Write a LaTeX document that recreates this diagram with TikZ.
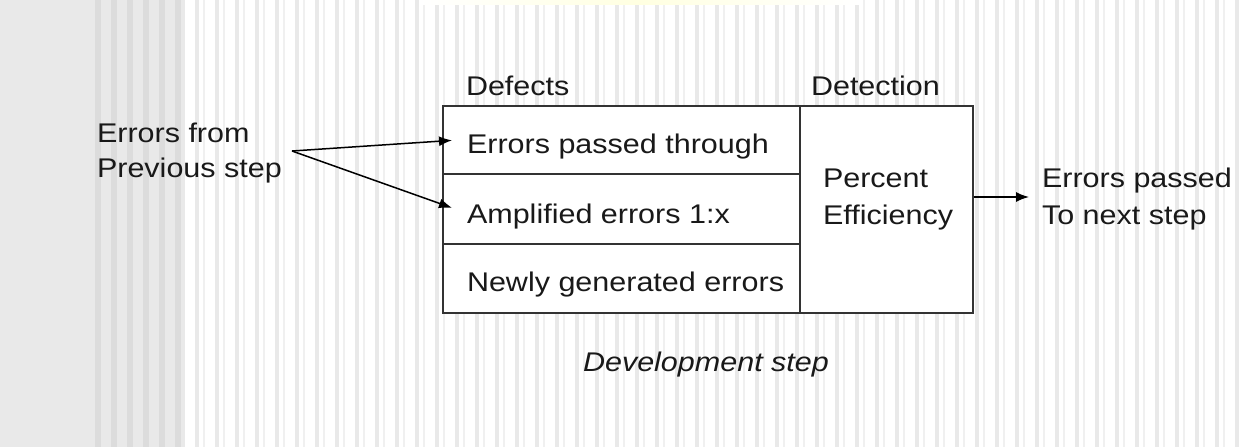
\documentclass[tikz,border=0pt]{standalone}
\usepackage{fontspec}
\usepackage{graphicx}
\setmainfont{Liberation Sans}
\usetikzlibrary{arrows.meta,calc}
\definecolor{bgL}{HTML}{E9E9E9}
\definecolor{bgD}{HTML}{DCDCDC}
\definecolor{stripeA}{HTML}{E9E9E9}
\definecolor{stripeB}{HTML}{F0F0F0}
\definecolor{boxline}{HTML}{333333}
\newcommand{\hs}[1]{\scalebox{1.13}[1]{#1}}
\begin{document}
\begin{tikzpicture}[x=1pt,y=-1pt,
  txt/.style={inner sep=0pt, outer sep=0pt, anchor=base west, text=black!90, font=\fontsize{27}{34}\selectfont},
  cell/.style={draw=boxline, line width=1.7pt, fill=white, anchor=north west, inner sep=0pt},
  arr/.style={line width=1.5pt, -{Latex[length=13pt,width=10pt]}}]
\useasboundingbox (0,0) rectangle (1241,447);
% background
\fill[white] (0,0) rectangle (1241,447);
\fill[bgL] (0,0) rectangle (185,447);
\foreach \x in {95,111,...,180} \fill[bgD] (\x,0) rectangle ++(6,447);
\foreach \x in {195,215,...,1235} {
  \fill[stripeA] (\x,0) rectangle ++(3.5,447);
  \fill[stripeB] (\x+8,0) rectangle ++(2,447);
}
\shade[left color=white, right color=white, middle color=yellow!12!white] (420,0) rectangle (860,4);
% box
\node[cell, minimum width=357pt, minimum height=68pt] (r1) at (442,105) {};
\node[cell, minimum width=357pt, minimum height=70pt] (r2) at (442,173) {};
\node[cell, minimum width=357pt, minimum height=69pt] (r3) at (442,243) {};
\node[cell, minimum width=173pt, minimum height=207pt] (det) at (799,105) {};
% texts
\node[txt] (hdef) at (466,95) {\hs{Defects}};
\node[txt] (hdet) at (811,95) {\hs{Detection}};
\node[txt] (t1) at (467,153) {\hs{Errors passed through}};
\node[txt] (t2) at (467,223) {\hs{Amplified errors 1:x}};
\node[txt] (t3) at (467,291) {\hs{Newly generated errors}};
\node[txt] (p1) at (823,187) {\hs{Percent}};
\node[txt] (p2) at (823,224) {\hs{Efficiency}};
\node[txt] (in1) at (97,142) {\hs{Errors from}};
\node[txt] (in2) at (97,177) {\hs{Previous step}};
\node[txt] (o1) at (1042,187) {\hs{Errors passed}};
\node[txt] (o2) at (1042,224) {\hs{To next step}};
\node[txt] (dev) at (583,371) {\hs{\itshape Development step}};
% connectors
\coordinate (src) at (292,151);
\coordinate (out) at (1029,197);
\draw[arr] (src) -- ([xshift=10pt,yshift=-0.5pt]r1.west);
\draw[arr] (src) -- ([xshift=10pt,yshift=1pt]r2.west);
\draw[arr] (det.east |- out) -- (out);
\end{tikzpicture}
\end{document}
